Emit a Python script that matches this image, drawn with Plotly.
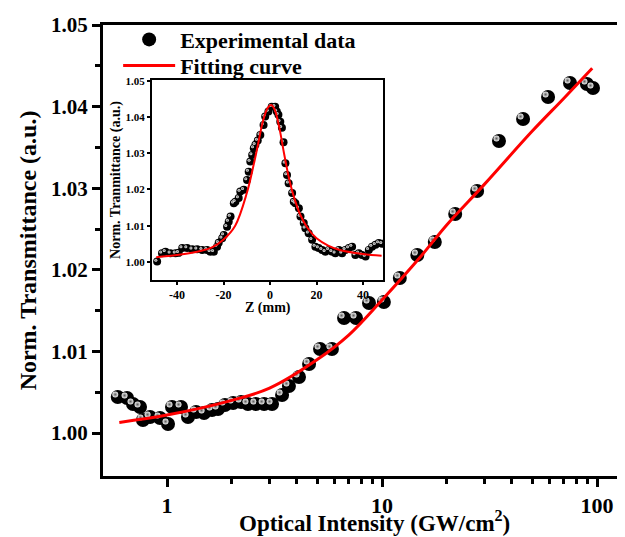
import plotly.graph_objects as go

# ---------------- data ----------------
intensity = [0.59, 0.652, 0.695, 0.749, 0.773, 0.834, 0.928, 1.011, 1.055, 1.162,
             1.252, 1.365, 1.487, 1.619, 1.727, 1.86, 2.03, 2.21, 2.38, 2.59,
             2.83, 3.08, 3.43, 3.69, 4.11, 4.58, 5.15, 5.85, 6.66, 7.57,
             8.7, 10.2, 12.1, 14.6, 17.6, 21.9, 27.7, 35.0, 45.3, 59.2,
             74.9, 89.8, 95.8]
transmittance = [1.00441, 1.00429, 1.00355, 1.00319, 1.0016, 1.00196, 1.00184, 1.0011, 1.00319, 1.00319,
                 1.00196, 1.00257, 1.00245, 1.00282, 1.00294, 1.00343, 1.00368, 1.0038, 1.00355, 1.00355,
                 1.00355, 1.00355, 1.00466, 1.00576, 1.00686, 1.00846, 1.0103, 1.0103, 1.01409, 1.01409,
                 1.01593, 1.01605, 1.019, 1.02181, 1.02341, 1.02684, 1.02966, 1.03578, 1.03848, 1.04118,
                 1.04289, 1.04277, 1.04228]

fit_intensity = [0.6, 1, 2, 3, 5, 7, 10, 15, 20, 30, 50, 70, 95]
fit_transmittance = [1.0013, 1.0022, 1.0040, 1.0055, 1.0090, 1.0120, 1.0163, 1.0215,
                     1.0255, 1.0305, 1.0370, 1.0410, 1.0447]

z_mm = [-48.6, -46.5, -45.0, -42.9, -40.7, -39.3, -37.8, -35.7, -33.5, -31.4,
        -29.2, -27.1, -25.7, -24.2, -22.8, -22.1, -20.6, -19.9, -18.5, -17.8,
        -17.0, -15.6, -14.9, -13.5, -12.8, -11.3, -9.9, -9.2, -8.5, -7.7,
        -7.0, -6.3, -5.3, -4.2, -2.8, -2.1, -0.7, 0.7, 2.2, 2.9,
        3.6, 4.4, 5.1, 5.8, 6.6, 7.3, 8.0, 9.5, 10.2, 10.9,
        12.4, 13.1, 14.5, 15.2, 16.6, 18.1, 19.5, 20.9, 22.4, 23.8,
        25.3, 26.7, 28.1, 29.6, 31.0, 32.4, 33.9, 35.3, 36.7, 38.2,
        39.6, 41.1, 42.5, 43.9, 45.4, 46.8, 48.2]
z_trans = [1.0001, 1.0024, 1.0028, 1.0024, 1.0024, 1.0025, 1.0038, 1.0038, 1.0035, 1.0035,
           1.0033, 1.0033, 1.0028, 1.0028, 1.0042, 1.0053, 1.0065, 1.0074, 1.0097, 1.0111,
           1.0125, 1.0162, 1.0166, 1.0176, 1.0194, 1.0199, 1.0226, 1.0249, 1.0277, 1.0295,
           1.0314, 1.0323, 1.0335, 1.0350, 1.0378, 1.0401, 1.0415, 1.0428, 1.0428, 1.0415,
           1.0406, 1.0387, 1.0370, 1.0330, 1.0272, 1.0240, 1.0217, 1.0190, 1.0166, 1.0162,
           1.0148, 1.0125, 1.0107, 1.0093, 1.0079, 1.0061, 1.0042, 1.0038, 1.0033, 1.0028,
           1.0033, 1.0028, 1.0024, 1.0033, 1.0024, 1.0033, 1.0038, 1.0042, 1.0019, 1.0024,
           1.0019, 1.0015, 1.0033, 1.0042, 1.0047, 1.0052, 1.0050]

z_fit = [-49, -40, -30, -25, -20, -15, -10, -7, -5, -3, -1, 0.5, 2, 4, 6, 8, 10, 13, 16, 20, 25, 30, 40, 48]
z_fit_trans = [1.0013, 1.0019, 1.0030, 1.0040, 1.0062, 1.0100, 1.0190, 1.0270, 1.0330, 1.0390,
               1.0425, 1.0433, 1.0420, 1.0370, 1.0300, 1.0235, 1.0185, 1.0130, 1.0095, 1.0065,
               1.0045, 1.0033, 1.0022, 1.0017]

main_ticks = [1.00, 1.01, 1.02, 1.03, 1.04, 1.05]
x_ticks = [1, 10, 100]
inset_x_ticks = [-40, -20, 0, 20, 40]

# ---------------- layout geometry ----------------
# (the page body adds an 8px margin, compensated here)
W, H = 625, 537
ML, MR, MT, MB = 95, 8, 17, 69
PW, PH = W - ML - MR, H - MT - MB
XR = [-0.2977, 2.1302]
YR = [0.99473, 1.05]
IXR = [-50.8, 48.6]
IYR = [0.995, 1.0502]
inset_dom_x = [0.0939, 0.5364]
inset_dom_y = [0.4346, 0.878]

FONT = "Liberation Serif"

# highlight offsets (in pixels converted to data units)
px_dec = PW / (XR[1] - XR[0])
px_y = PH / (YR[1] - YR[0])
hx = 10 ** (-2.5 / px_dec)
hy = 2.5 / px_y
ipw = PW * (inset_dom_x[1] - inset_dom_x[0]) / (IXR[1] - IXR[0])
iph = PH * (inset_dom_y[1] - inset_dom_y[0]) / (IYR[1] - IYR[0])
ihx = -1.3 / ipw
ihy = 1.3 / iph

fig = go.Figure()

fig.add_trace(go.Scatter(
    x=intensity, y=transmittance, mode="markers", name="Experimental data",
    marker=dict(size=14, color="black", line=dict(width=0)),
    xaxis="x", yaxis="y", legend="legend"))
fig.add_trace(go.Scatter(
    x=[v * hx for v in intensity], y=[v + hy for v in transmittance], mode="markers",
    showlegend=False, hoverinfo="skip",
    marker=dict(size=6, color="#f2f2f2", line=dict(width=0),
                gradient=dict(type="radial", color="#606060")),
    xaxis="x", yaxis="y"))
fig.add_trace(go.Scatter(
    x=fit_intensity, y=fit_transmittance, mode="lines", name="Fitting curve",
    line=dict(color="#ff0000", width=3, shape="spline", smoothing=1.0),
    xaxis="x", yaxis="y", legend="legend2"))

# inset
fig.add_trace(go.Scatter(
    x=z_mm, y=z_trans, mode="markers", showlegend=False,
    marker=dict(size=8, color="black", line=dict(width=0)),
    xaxis="x2", yaxis="y2"))
fig.add_trace(go.Scatter(
    x=[v + ihx for v in z_mm], y=[v + ihy for v in z_trans], mode="markers",
    showlegend=False, hoverinfo="skip",
    marker=dict(size=3, color="#f0f0f0", line=dict(width=0),
                gradient=dict(type="radial", color="#707070")),
    xaxis="x2", yaxis="y2"))
fig.add_trace(go.Scatter(
    x=z_fit, y=z_fit_trans, mode="lines", showlegend=False,
    line=dict(color="#ff0000", width=2, shape="spline", smoothing=1.0),
    xaxis="x2", yaxis="y2"))

bold = dict(family=FONT, color="black", weight="bold")
leg_common = dict(xanchor="left", yanchor="top", bgcolor="rgba(0,0,0,0)", borderwidth=0,
                  itemwidth=52, font=dict(size=22, **bold))

fig.update_layout(
    width=W, height=H,
    margin=dict(l=ML, r=MR, t=MT, b=MB, pad=0, autoexpand=False),
    paper_bgcolor="white", plot_bgcolor="white",
    font=dict(family=FONT, color="black", weight="bold"),
    showlegend=True,
    legend=dict(x=0.029, y=1.0142, **leg_common),
    legend2=dict(x=0.029, y=0.9565, **leg_common),
    xaxis=dict(
        type="log", range=XR, domain=[0, 1], automargin=False,
        showline=True, linewidth=3, linecolor="black", mirror=True,
        showgrid=False, zeroline=False,
        tickmode="array", tickvals=x_ticks, ticktext=[str(v) for v in x_ticks],
        ticks="outside", ticklen=8, tickwidth=3, tickcolor="black",
        tickfont=dict(size=22, **bold),
        minor=dict(tickmode="array",
                   tickvals=[2, 3, 4, 5, 6, 7, 8, 9, 20, 30, 40, 50, 60, 70, 80, 90],
                   ticks="outside", ticklen=5, tickwidth=3, tickcolor="black", showgrid=False),
    ),
    yaxis=dict(
        range=YR, domain=[0, 1], automargin=False,
        showline=True, linewidth=3, linecolor="black", mirror=False,
        showgrid=False, zeroline=False,
        tickmode="array", tickvals=main_ticks, ticktext=[f"{v:.2f}" for v in main_ticks],
        ticks="outside", ticklen=8, tickwidth=3, tickcolor="black",
        tickfont=dict(size=21, **bold),
        minor=dict(tickmode="array", tickvals=[1.005, 1.015, 1.025, 1.035, 1.045],
                   ticks="outside", ticklen=5, tickwidth=3, tickcolor="black", showgrid=False),
        title=dict(text="Norm. Transmittance (a.u.)", font=dict(size=24, **bold), standoff=8),
    ),
    xaxis2=dict(
        range=IXR, domain=inset_dom_x, anchor="y2", automargin=False,
        showline=True, linewidth=2, linecolor="black", mirror=True,
        showgrid=False, zeroline=False,
        tickmode="array", tickvals=inset_x_ticks, ticktext=[str(v) for v in inset_x_ticks],
        ticks="outside", ticklen=3, tickwidth=2, tickcolor="black",
        tickfont=dict(size=12, **bold),
    ),
    yaxis2=dict(
        range=IYR, domain=inset_dom_y, anchor="x2", automargin=False,
        showline=True, linewidth=2, linecolor="black", mirror=True,
        showgrid=False, zeroline=False,
        tickmode="array", tickvals=main_ticks, ticktext=[f"{v:.2f}" for v in main_ticks],
        ticks="outside", ticklen=3, tickwidth=2, tickcolor="black",
        tickfont=dict(size=11, **bold),
        title=dict(text="Norm. Tranmittance (a.u.)", font=dict(size=14, **bold), standoff=2),
    ),
    annotations=[
        dict(text="Optical Intensity (GW/cm<sup>2</sup>)", xref="paper", yref="paper",
             x=0.521, y=-0.0998, xanchor="center", yanchor="middle", showarrow=False,
             font=dict(size=23, **bold)),
        dict(text="Z (mm)", xref="paper", yref="paper",
             x=(inset_dom_x[0] + inset_dom_x[1]) / 2, y=0.3725, xanchor="center", yanchor="middle",
             showarrow=False, font=dict(size=14, **bold)),
    ],
)

fig.write_html("out.html")
